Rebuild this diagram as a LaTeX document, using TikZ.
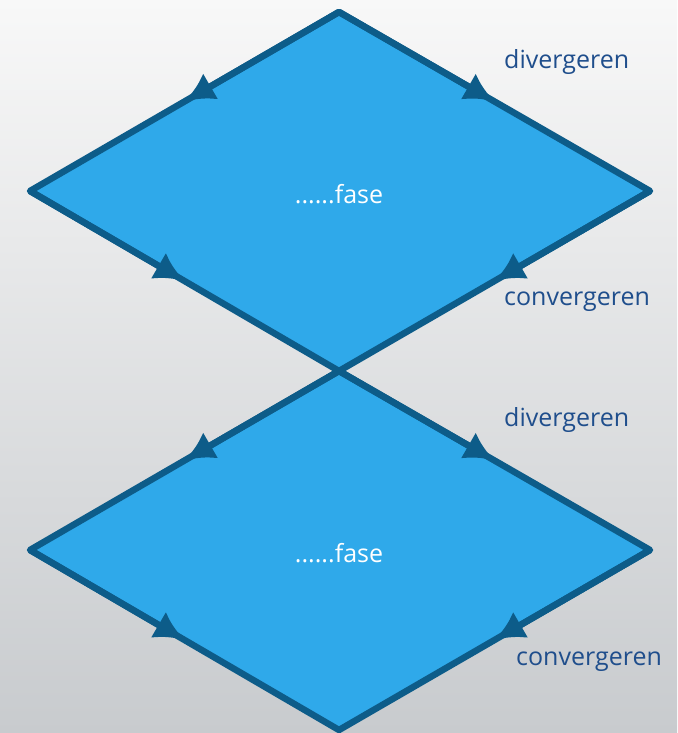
\documentclass[tikz,border=0pt]{standalone}
\usepackage{fontspec}
\setmainfont{Open Sans}
\usetikzlibrary{arrows.meta, calc}
\definecolor{phasefill}{RGB}{47,169,234}
\definecolor{phaseline}{RGB}{13,92,137}
\definecolor{labelblue}{RGB}{31,78,140}
\definecolor{bgtop}{RGB}{248,248,248}
\definecolor{bgbottom}{RGB}{200,203,206}
\tikzset{
  phase/.style={
    fill=phasefill,
    draw=phaseline,
    line width=6.5pt,
    line join=round
  },
  flowarrow/.style={-{Latex[length=30pt, width=30pt]}, draw=phaseline, line width=6.5pt},
  steplabel/.style={text=labelblue, anchor=west, inner sep=0pt, font=\fontsize{25}{30}\selectfont},
  phaselabel/.style={text=white, inner sep=0pt, font=\fontsize{25}{30}\selectfont}
}
\begin{document}
\begin{tikzpicture}[x=1pt, y=-1pt]
\shade[top color=bgtop, bottom color=bgbottom] (0,0) rectangle (677,733);
\useasboundingbox (0,0) rectangle (677,733);

% upper diamond
\coordinate (t1) at (339,12);
\coordinate (l1) at (30,191);
\coordinate (r1) at (650,191);
\coordinate (b1) at (339,371);
% lower diamond
\coordinate (l2) at (30,550);
\coordinate (r2) at (650,550);
\coordinate (b2) at (339,730);

\draw[phase] (t1) -- (r1) -- (b1) -- (l1) -- cycle;
\draw[phase] (b1) -- (r2) -- (b2) -- (l2) -- cycle;

\draw[flowarrow] (t1) -- ($(t1)!0.5!(l1)$);
\draw[flowarrow] (t1) -- ($(t1)!0.5!(r1)$);
\draw[flowarrow] (l1) -- ($(l1)!0.5!(b1)$);
\draw[flowarrow] (r1) -- ($(r1)!0.5!(b1)$);
\draw[flowarrow] (b1) -- ($(b1)!0.5!(l2)$);
\draw[flowarrow] (b1) -- ($(b1)!0.5!(r2)$);
\draw[flowarrow] (l2) -- ($(l2)!0.5!(b2)$);
\draw[flowarrow] (r2) -- ($(r2)!0.5!(b2)$);

\node[phaselabel] (fase1) at (339,194) {......fase};
\node[phaselabel] (fase2) at (339,553) {......fase};

\node[steplabel] (div1) at (504,62) {divergeren};
\node[steplabel] (conv1) at (504,302) {convergeren};
\node[steplabel] (div2) at (504,420) {divergeren};
\node[steplabel] (conv2) at (516,662) {convergeren};
\end{tikzpicture}
\end{document}
